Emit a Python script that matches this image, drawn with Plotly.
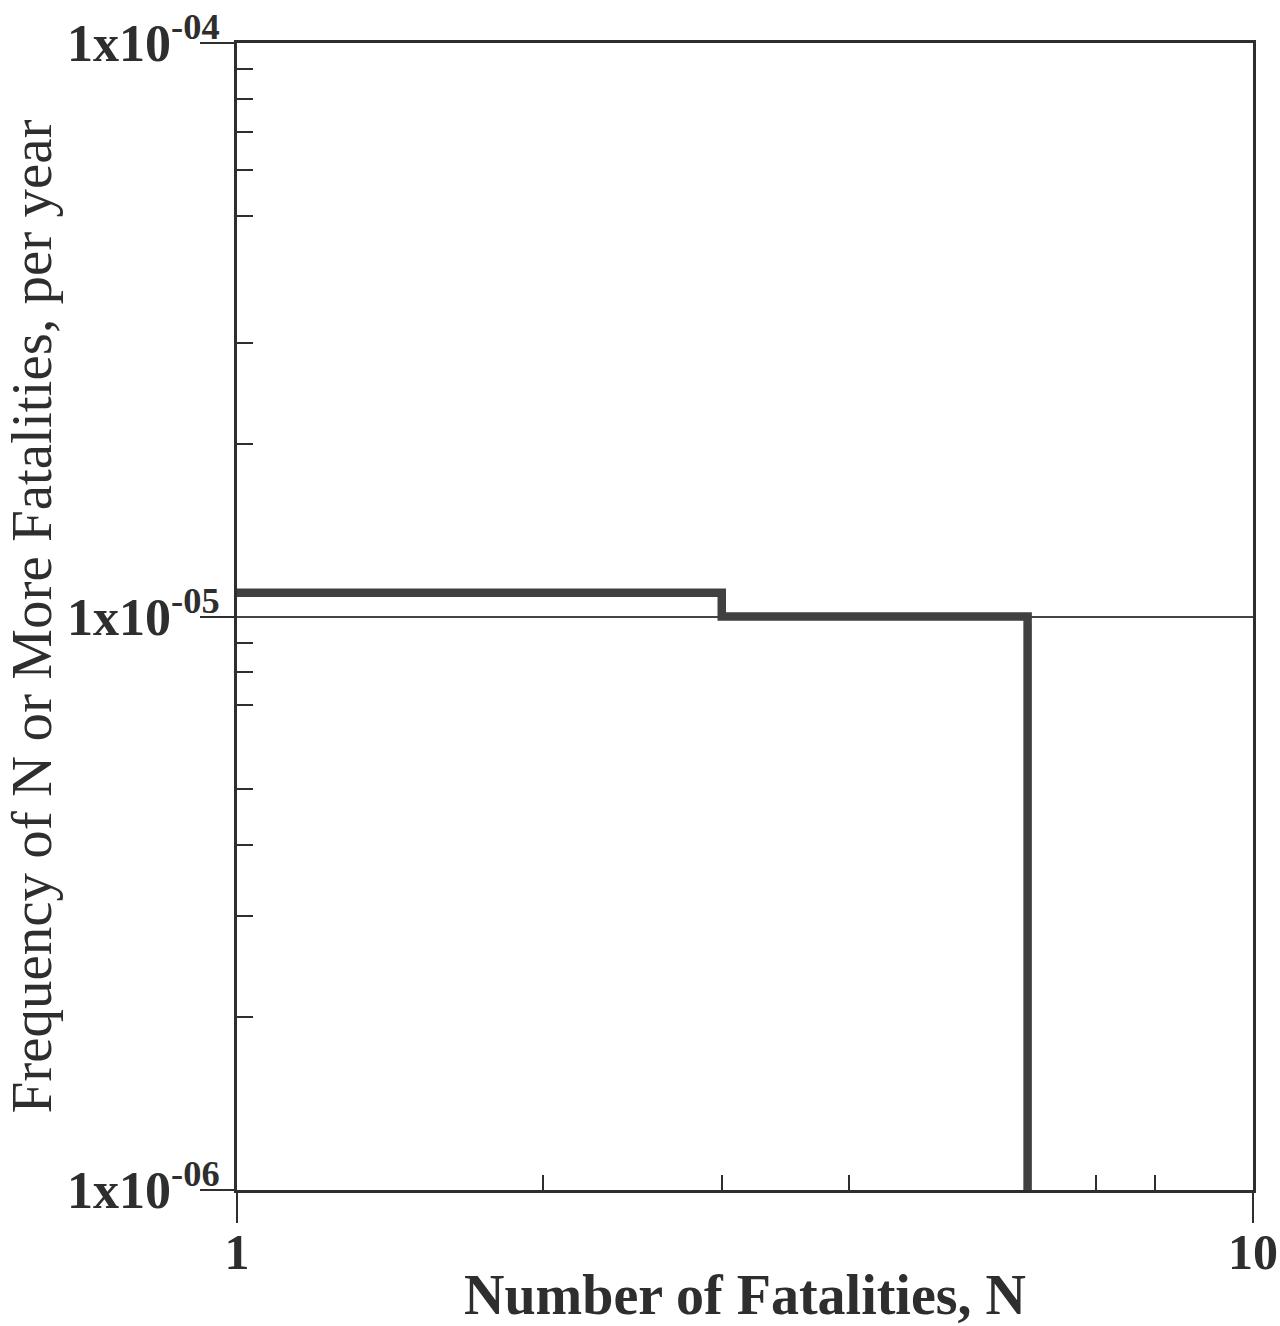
import plotly.graph_objects as go

# Data
n_fatalities = [1, 3, 6]
frequency = [1.1e-5, 1.0e-5, 1.0e-6]

y_tick_vals = [1e-6, 1e-5, 1e-4]
y_tick_text = ["1x10<sup>-06</sup>", "1x10<sup>-05</sup>", "1x10<sup>-04</sup>"]
y_minor_vals = [2e-6, 3e-6, 4e-6, 5e-6, 7e-6, 8e-6, 9e-6,
                2e-5, 3e-5, 5e-5, 6e-5, 7e-5, 8e-5, 9e-5]
x_tick_vals = [1, 10]
x_tick_text = ["1", "10"]
x_minor_vals = [2, 3, 4, 7, 8]

ink = "#2e2e2e"
serif = "Liberation Serif, Times New Roman, serif"

fig = go.Figure()
fig.add_trace(go.Scatter(
    x=n_fatalities, y=frequency, mode="lines",
    line=dict(shape="hv", color="#404040", width=8.5),
    showlegend=False, hoverinfo="skip",
))

fig.update_layout(
    width=1280, height=1326,
    margin=dict(l=237, r=27, t=43, b=136),
    paper_bgcolor="white", plot_bgcolor="white",
    font=dict(family=serif, color=ink),
)

fig.update_xaxes(
    type="log", range=[0, 1], automargin=False,
    tickmode="array", tickvals=x_tick_vals, ticktext=x_tick_text,
    ticks="outside", ticklen=30, tickwidth=1.5, tickcolor=ink,
    ticklabelstandoff=-14, ticklabeloverflow="allow",
    tickfont=dict(family=serif, size=50, color=ink, weight="bold"),
    showline=True, linecolor=ink, linewidth=3, mirror=True,
    showgrid=False, zeroline=False,
    minor=dict(tickmode="array", tickvals=x_minor_vals, ticks="inside",
               ticklen=15, tickwidth=1.5, tickcolor=ink, showgrid=False),
    title=dict(text="<b>Number of Fatalities, N</b>",
               font=dict(family=serif, size=56, color=ink), standoff=0),
)

fig.update_yaxes(
    type="log", range=[-6, -4], automargin=False,
    tickmode="array", tickvals=y_tick_vals, ticktext=y_tick_text,
    ticks="outside", ticklen=34, tickwidth=1.5, tickcolor=ink,
    ticklabelstandoff=-30,
    tickfont=dict(family=serif, size=52, color=ink, weight="bold"),
    showline=True, linecolor=ink, linewidth=3, mirror=True,
    showgrid=True, gridcolor="#444444", gridwidth=1.5, zeroline=False,
    minor=dict(tickmode="array", tickvals=y_minor_vals, ticks="inside",
               ticklen=16, tickwidth=1.5, tickcolor=ink, showgrid=False),
    title=dict(text="Frequency of N or More Fatalities, per year",
               font=dict(family=serif, size=57, color=ink), standoff=0),
)

fig.write_html("out.html")
